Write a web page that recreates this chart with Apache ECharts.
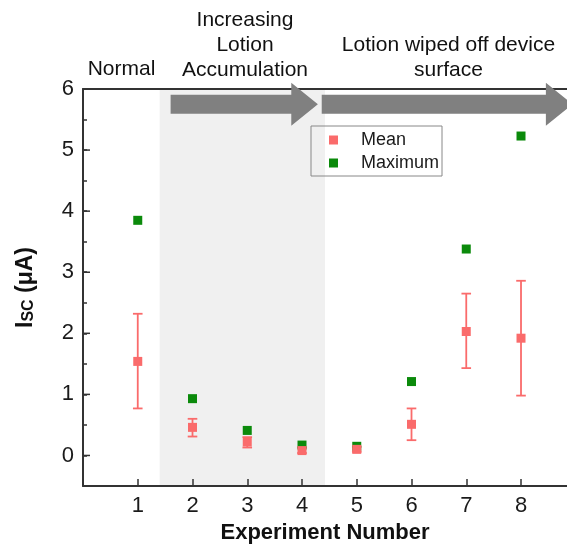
<!DOCTYPE html>
<html><head><meta charset="utf-8">
<script src="https://cdn.jsdelivr.net/npm/echarts@6/dist/echarts.min.js"></script>
<style>html,body{margin:0;padding:0;background:#fff}#c{width:567px;height:549px}</style>
</head><body><div id="c"></div>
<script>
// ---- data ----
const experiments = [1, 2, 3, 4, 5, 6, 7, 8];
const meanValues = [1.54, 0.46, 0.22, 0.08, 0.10, 0.51, 2.03, 1.92];
const meanLow    = [0.77, 0.31, 0.13, 0.04, 0.06, 0.25, 1.43, 0.98];
const meanHigh   = [2.32, 0.60, 0.30, 0.13, 0.14, 0.77, 2.65, 2.86];
const maxValues  = [3.85, 0.93, 0.41, 0.17, 0.15, 1.21, 3.38, 5.23];
const yTickValues = [0, 1, 2, 3, 4, 5, 6];
const xTickLabels = ['1', '2', '3', '4', '5', '6', '7', '8'];
const shadedRange = [1.4, 4.42];
const arrowSpans = [[1.6, 4.29], [4.36, 8.94]];
const arrowLevel = 5.75;

const X_MIN = 0, X_MAX = 8.84, Y_MIN = -0.5, Y_MAX = 6;
const FONT = "'Liberation Sans', Arial, sans-serif";
const MEAN_COLOR = '#fa6b6b';
const MAX_COLOR = '#0b8a0b';
const AXIS_COLOR = '#333';

const chart = echarts.init(document.getElementById('c'), null, {renderer: 'canvas'});

const meanData = experiments.map((x, i) => [x, meanValues[i]]);
const maxData = experiments.map((x, i) => [x, maxValues[i]]);
const errData = experiments.map((x, i) => [x, meanLow[i], meanHigh[i]]);

const option = {
  backgroundColor: '#fff',
  animation: false,
  grid: {left: 83, right: 0, top: 89, bottom: 62, containLabel: false},
  xAxis: [{
    type: 'value', min: X_MIN, max: X_MAX, interval: 1, z: 4,
    axisLine: {show: true, onZero: false, lineStyle: {color: AXIS_COLOR, width: 2}},
    axisTick: {show: true, inside: true, length: 7, lineStyle: {color: AXIS_COLOR, width: 1.5}},
    axisLabel: {
      fontFamily: FONT, fontSize: 22, color: '#1a1a1a', margin: 9, showMaxLabel: false,
      formatter: v => { const i = Math.round(v) - 1; return (Math.abs(v - Math.round(v)) < 1e-6 && i >= 0 && i < xTickLabels.length) ? xTickLabels[i] : ''; }
    },
    splitLine: {show: false},
    name: 'Experiment Number', nameLocation: 'middle', nameGap: 36,
    nameTextStyle: {fontFamily: FONT, fontSize: 22, fontWeight: 'bold', color: '#111'}
  }, {
    type: 'value', position: 'top', min: X_MIN, max: X_MAX, interval: 1, z: 2,
    axisLine: {show: true, onZero: false, lineStyle: {color: AXIS_COLOR, width: 2}},
    axisTick: {show: false}, axisLabel: {show: false}, splitLine: {show: false}
  }],
  yAxis: [{
    type: 'value', min: Y_MIN, max: Y_MAX, interval: 0.5, z: 4,
    axisLine: {show: true, onZero: false, lineStyle: {color: AXIS_COLOR, width: 2}},
    axisTick: {show: true, inside: true, length: 4, lineStyle: {color: AXIS_COLOR, width: 1.5}},
    axisLabel: {
      fontFamily: FONT, fontSize: 22, color: '#1a1a1a', margin: 9,
      formatter: v => (Math.abs(v - Math.round(v)) < 1e-6 && yTickValues.indexOf(Math.round(v)) >= 0) ? String(Math.round(v)) : ''
    },
    splitLine: {show: false},
    name: '{b|I}{s|SC}{b| (μA)}', nameLocation: 'middle', nameGap: 46, nameRotate: 90,
    nameTextStyle: {
      rich: {
        b: {fontFamily: FONT, fontSize: 23, fontWeight: 'bold', color: '#111', lineHeight: 26, verticalAlign: 'bottom'},
        s: {fontFamily: FONT, fontSize: 16, fontWeight: 'bold', color: '#111', lineHeight: 16, verticalAlign: 'bottom'}
      }
    }
  }],
  legend: {
    show: true, orient: 'vertical', left: 311, top: 126,
    padding: [4, 3, 3, 18], itemGap: 3, itemWidth: 9, itemHeight: 9,
    borderColor: '#888', borderWidth: 1, selectedMode: false,
    textStyle: {fontFamily: FONT, fontSize: 18, color: '#1a1a1a', lineHeight: 20, padding: [0, 0, 0, 18]},
    data: [{name: 'Mean', icon: 'rect'}, {name: 'Maximum', icon: 'rect'}]
  },
  series: [
    {
      name: 'shade', type: 'custom', z: 1, silent: true, clip: false,
      data: [shadedRange],
      encode: {x: [0, 1]},
      renderItem: (params, api) => {
        const p0 = api.coord([api.value(0), Y_MAX]);
        const p1 = api.coord([api.value(1), Y_MIN]);
        return {type: 'rect', shape: {x: p0[0], y: p0[1], width: p1[0] - p0[0], height: p1[1] - p0[1]}, style: {fill: '#f0f0f0'}};
      }
    },
    {
      name: 'Maximum', type: 'scatter', z: 3, symbol: 'rect', symbolSize: 9,
      itemStyle: {color: MAX_COLOR, opacity: 1}, data: maxData
    },
    {
      name: 'errorbars', type: 'custom', z: 3, silent: true,
      data: errData, encode: {x: 0, y: [1, 2]},
      renderItem: (params, api) => {
        const x = api.value(0);
        const lo = api.coord([x, api.value(1)]);
        const hi = api.coord([x, api.value(2)]);
        const hw = 4.8;
        const st = {stroke: MEAN_COLOR, lineWidth: 1.8};
        return {type: 'group', children: [
          {type: 'line', shape: {x1: lo[0], y1: lo[1], x2: hi[0], y2: hi[1]}, style: st},
          {type: 'line', shape: {x1: lo[0] - hw, y1: lo[1], x2: lo[0] + hw, y2: lo[1]}, style: st},
          {type: 'line', shape: {x1: hi[0] - hw, y1: hi[1], x2: hi[0] + hw, y2: hi[1]}, style: st}
        ]};
      }
    },
    {
      name: 'Mean', type: 'scatter', z: 3, symbol: 'rect', symbolSize: 9,
      itemStyle: {color: MEAN_COLOR, opacity: 1}, data: meanData
    },
    {
      name: 'yMajorTicks', type: 'custom', z: 5, silent: true, clip: false,
      data: yTickValues.map(v => [X_MIN, v]), encode: {x: 0, y: 1},
      renderItem: (params, api) => {
        const p = api.coord([api.value(0), api.value(1)]);
        return {type: 'line', shape: {x1: p[0], y1: p[1], x2: p[0] + 7, y2: p[1]}, style: {stroke: AXIS_COLOR, lineWidth: 1.5}};
      }
    },
    {
      name: 'arrows', type: 'custom', z: 10, silent: true, clip: false,
      data: arrowSpans, encode: {x: [0, 1]},
      renderItem: (params, api) => {
        const a = api.coord([api.value(0), arrowLevel]);
        const t = api.coord([api.value(1), arrowLevel]);
        const hl = 26.6, bh = 9.5, hh = 21.5, y = a[1];
        return {type: 'polygon', shape: {points: [
          [a[0], y - bh], [t[0] - hl, y - bh], [t[0] - hl, y - hh], [t[0], y],
          [t[0] - hl, y + hh], [t[0] - hl, y + bh], [a[0], y + bh]
        ]}, style: {fill: '#808080'}};
      }
    }
  ],
  graphic: [
    {type: 'text', x: 121.5, y: 57, style: {text: 'Normal', font: '21px ' + FONT, fill: '#111', align: 'center', verticalAlign: 'top', lineHeight: 25}},
    {type: 'text', x: 245, y: 8, style: {text: 'Increasing\nLotion\nAccumulation', font: '21px ' + FONT, fill: '#111', align: 'center', verticalAlign: 'top', lineHeight: 25}},
    {type: 'text', x: 448.5, y: 33, style: {text: 'Lotion wiped off device\nsurface', font: '21px ' + FONT, fill: '#111', align: 'center', verticalAlign: 'top', lineHeight: 25}}
  ]
};
chart.setOption(option);
</script>
</body></html>
